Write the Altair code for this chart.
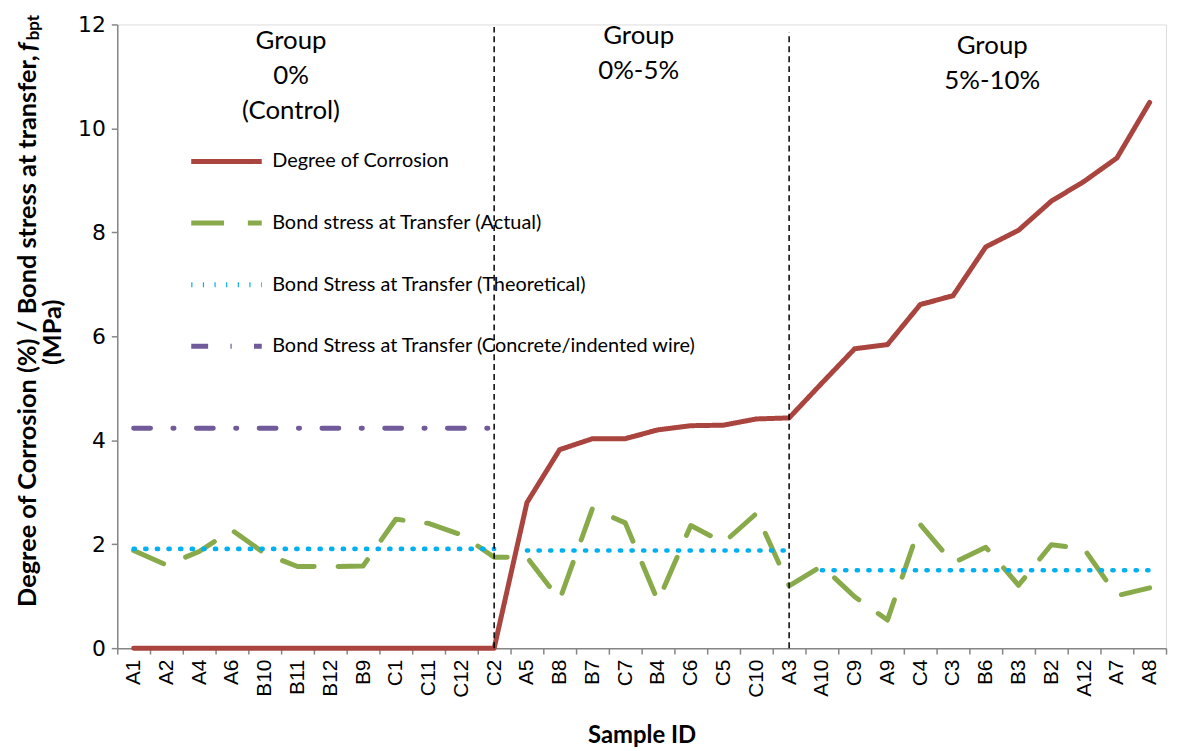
import altair as alt
import pandas as pd

# ---------------- data ----------------
ids = ["A1", "A2", "A4", "A6", "B10", "B11", "B12", "B9", "C1", "C11", "C12", "C2",
       "A5", "B8", "B7", "C7", "B4", "C6", "C5", "C10", "A3",
       "A10", "C9", "A9", "C4", "C3", "B6", "B3", "B2", "A12", "A7", "A8"]
groups = ["0%", "0%", "0%", "0%", "0%", "0%", "0%", "0%", "0%", "0%", "0%", "0%",
          "0-5%", "0-5%", "0-5%", "0-5%", "0-5%", "0-5%", "0-5%", "0-5%", "0-5%",
          "5-10%", "5-10%", "5-10%", "5-10%", "5-10%", "5-10%", "5-10%", "5-10%", "5-10%", "5-10%", "5-10%"]
corrosion = [0, 0, 0, 0, 0, 0, 0, 0, 0, 0, 0, 0,
             2.80, 3.82, 4.03, 4.03, 4.20, 4.28, 4.29, 4.41, 4.43,
             5.10, 5.76, 5.84, 6.61, 6.78, 7.72, 8.04, 8.60, 8.98, 9.43, 10.50]
actual = [1.88, 1.60, 1.86, 2.27, 1.82, 1.57, 1.57, 1.58, 2.48, 2.40, 2.18, 1.75,
          1.75, 0.93, 2.69, 2.41, 0.90, 2.36, 2.03, 2.59, 1.20,
          1.58, 0.99, 0.54, 2.38, 1.64, 1.94, 1.21, 1.99, 1.91, 1.01, 1.16]
theoretical = [1.91, 1.91, 1.91, 1.91, 1.91, 1.91, 1.91, 1.91, 1.91, 1.91, 1.91, 1.91,
               1.88, 1.88, 1.88, 1.88, 1.88, 1.88, 1.88, 1.88, 1.88,
               1.50, 1.50, 1.50, 1.50, 1.50, 1.50, 1.50, 1.50, 1.50, 1.50, 1.50]
concrete = [4.23, 4.23, 4.23, 4.23, 4.23, 4.23, 4.23, 4.23, 4.23, 4.23, 4.23, 4.23,
            None, None, None, None, None, None, None, None, None,
            None, None, None, None, None, None, None, None, None, None, None]

series_names = ["Degree of Corrosion",
                "Bond stress at Transfer (Actual)",
                "Bond Stress at Transfer (Theoretical)",
                "Bond Stress at Transfer (Concrete/indented wire)"]
series_colors = ["#A9443F", "#89AA4A", "#00B0F0", "#715A99"]
series_dashes = [[1, 0], [33, 24], [1.2, 10.5], [17, 22.5, 1.2, 22.5]]

divider_ids = ["C2", "A3"]
divider_tops = [11.95, 11.85]

group_labels = ["Group\n0%\n(Control)", "Group\n0%-5%", "Group\n5%-10%"]

# ---------------- table ----------------
rows = []
for i, sid in enumerate(ids):
    for name, vals, seg in [(series_names[0], corrosion, "all"),
                            (series_names[1], actual, "all"),
                            (series_names[2], theoretical, groups[i]),
                            (series_names[3], concrete, "all")]:
        if vals[i] is not None:
            rows.append({"idx": i, "id": sid, "series": name, "value": vals[i], "seg": seg})
df = pd.DataFrame(rows)

W, H = 1056, 628
FONT = "Lato"

legend = alt.Legend(title=None, orient="none", legendX=72, legendY=100,
                    symbolType="stroke", symbolSize=5041, symbolStrokeWidth=5,
                    labelFont=FONT, labelFontSize=20, labelColor="#000000", labelLimit=0,
                    rowPadding=14, labelOffset=8, padding=0)

x_enc = alt.X("id:N", sort=ids, bandPosition=0.5,
              scale=alt.Scale(type="band", paddingInner=0, paddingOuter=0),
              axis=alt.Axis(title="Sample ID", labelAngle=-90, labelFont="Liberation Sans",
                            labelFontSize=21, labelColor="#000000", labelPadding=5,
                            tickBand="extent", tickSize=6, tickColor="#868686",
                            domainColor="#868686", domainWidth=1.5, tickWidth=1.5,
                            titleFont=FONT, titleFontSize=24, titleFontWeight="bold",
                            titleColor="#000000", titlePadding=26))
y_enc = alt.Y("value:Q", scale=alt.Scale(domain=[0, 12], nice=False),
              axis=alt.Axis(title=None, values=[0, 2, 4, 6, 8, 10, 12], grid=False,
                            labelFont="DejaVu Sans", labelFontSize=22, labelColor="#000000",
                            tickSize=6, tickColor="#868686", domainColor="#868686",
                            domainWidth=1.5, tickWidth=1.5, labelPadding=6))

color = alt.Color("series:N", scale=alt.Scale(domain=series_names, range=series_colors), legend=legend)
dash = alt.StrokeDash("series:N", scale=alt.Scale(domain=series_names, range=series_dashes), legend=legend)

base = alt.Chart(df)
layers = []
for k, name in enumerate(series_names):
    layers.append(
        base.transform_filter(alt.datum.series == name)
        .mark_line(strokeWidth=5 if k != 2 else 4.6, strokeCap="round", strokeJoin="round")
        .encode(x=x_enc, y=y_enc, color=color, strokeDash=dash,
                detail="seg:N", order=alt.Order("idx:Q"))
    )

div_df = pd.DataFrame({"id": divider_ids, "top": divider_tops, "bottom": [0, 0]})
dividers = alt.Chart(div_df).mark_rule(color="#000000", strokeWidth=1.5, strokeDash=[6, 4]).encode(
    x=alt.X("id:N", sort=ids, bandPosition=0.5), y=alt.Y("bottom:Q"), y2="top:Q")

grp_df = pd.DataFrame({"label": group_labels, "px": [175, 525, 881], "py": [4, -1, 9]})
grp = alt.Chart(grp_df).mark_text(font=FONT, fontSize=26, lineHeight=35, baseline="top",
                                  align="center", lineBreak="\n", color="#000000").encode(
    x=alt.X("px:Q", scale=None), y=alt.Y("py:Q", scale=None), text="label:N")

# y-axis title built from pieces so that f_bpt has a subscript
ytitle_df = pd.DataFrame({
    "t": ["Degree of Corrosion (%) / Bond stress at transfer,", "f", "bpt", "(MPa)"],
    "px": [-90, -90, -90, -65],
    "py": [31, 27, 16, 310],
})
yt_main = alt.Chart(ytitle_df.iloc[[0]]).mark_text(font=FONT, fontSize=25.5, fontWeight="bold", angle=270,
                                                  align="right", baseline="middle", color="#000000").encode(
    x=alt.X("px:Q", scale=None), y=alt.Y("py:Q", scale=None), text="t:N")
yt_f = alt.Chart(ytitle_df.iloc[[1]]).mark_text(font=FONT, fontSize=25.5, fontWeight="bold", fontStyle="italic",
                                               angle=270, align="left", baseline="middle", color="#000000").encode(
    x=alt.X("px:Q", scale=None), y=alt.Y("py:Q", scale=None), text="t:N")
yt_sub = alt.Chart(ytitle_df.iloc[[2]]).mark_text(font=FONT, fontSize=17, fontWeight="bold", angle=270,
                                                 align="left", baseline="middle", dy=6, color="#000000").encode(
    x=alt.X("px:Q", scale=None), y=alt.Y("py:Q", scale=None), text="t:N")
yt_2 = alt.Chart(ytitle_df.iloc[[3]]).mark_text(font=FONT, fontSize=25.5, fontWeight="bold", angle=270,
                                               align="center", baseline="middle", color="#000000").encode(
    x=alt.X("px:Q", scale=None), y=alt.Y("py:Q", scale=None), text="t:N")

chart = alt.layer(*layers, dividers, grp, yt_main, yt_f, yt_sub, yt_2).properties(
    width=W, height=H,
    autosize=alt.AutoSizeParams(type="none"),
    padding={"left": 110, "top": 14, "right": 4, "bottom": 101},
).configure_view(stroke=None).configure(background="#ffffff")

chart.save("out.html", embed_options={"renderer": "svg", "actions": False})
